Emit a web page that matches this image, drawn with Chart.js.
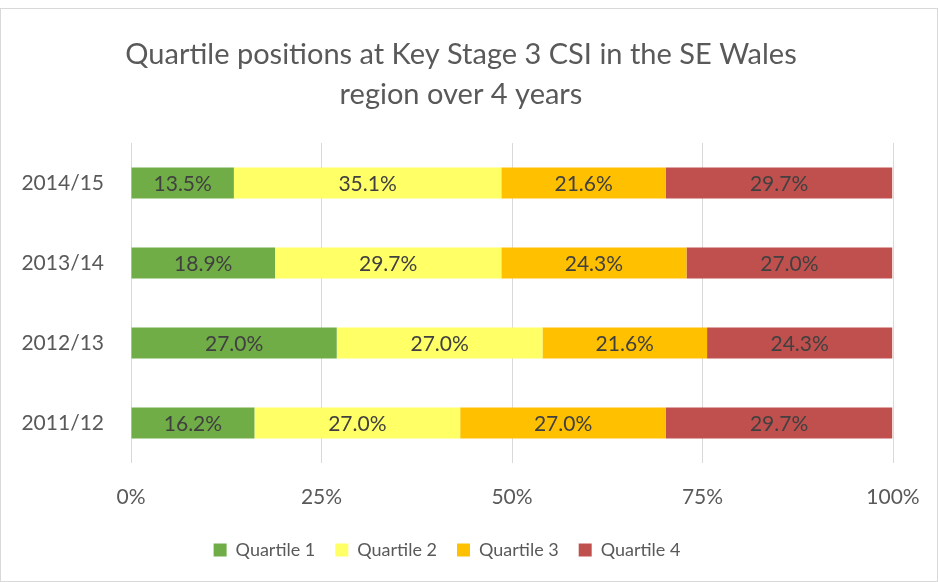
<!DOCTYPE html>
<html>
<head>
<meta charset="utf-8">
<script src="https://cdn.jsdelivr.net/npm/chart.js@4"></script>
<style>
    html, body { margin: 0; padding: 0; background: #fff; }
    #wrap { position: absolute; left: 0; top: 8px; width: 936px; height: 572px; border: 1px solid #d9d9d9; }
    canvas { display: block; }
</style>
</head>
<body>
<div id="wrap"><canvas id="chart" width="936" height="572"></canvas></div>
<script>
// Chart data
const years = ['2014/15', '2013/14', '2012/13', '2011/12'];
const quartile1 = [13.5, 18.9, 27.0, 16.2];
const quartile2 = [35.1, 29.7, 27.0, 27.0];
const quartile3 = [21.6, 24.3, 21.6, 27.0];
const quartile4 = [29.7, 27.0, 24.3, 29.7];
const seriesNames = ['Quartile 1', 'Quartile 2', 'Quartile 3', 'Quartile 4'];
const xTicks = [0, 25, 50, 75, 100];
const titleLines = ['Quartile positions at Key Stage 3 CSI in the SE Wales', 'region over 4 years'];

const colors = ['#70AD47', '#FFFF66', '#FFC000', '#C0504D'];
const fontFamily = "Lato, 'Open Sans', sans-serif";

// Title drawn by hand so it can sit a little right of the legend centre
const chartTitle = {
    id: 'chartTitle',
    afterDraw(chart) {
        const ctx = chart.ctx;
        ctx.save();
        ctx.font = '29px ' + fontFamily;
        ctx.fillStyle = '#595959';
        ctx.textAlign = 'center';
        ctx.textBaseline = 'middle';
        titleLines.forEach((line, i) => ctx.fillText(line, 460, 46 + i * 40));
        ctx.restore();
    }
};

// Draws the value in the middle of each bar segment
const barLabels = {
    id: 'barLabels',
    afterDatasetsDraw(chart) {
        const ctx = chart.ctx;
        ctx.save();
        ctx.font = '21px ' + fontFamily;
        ctx.fillStyle = '#404040';
        ctx.textAlign = 'center';
        ctx.textBaseline = 'middle';
        chart.data.datasets.forEach((ds, i) => {
            chart.getDatasetMeta(i).data.forEach((bar, j) => {
                const cx = (bar.x + bar.base) / 2;
                ctx.fillText(ds.data[j].toFixed(1) + '%', cx, bar.y + 1);
            });
        });
        ctx.restore();
    }
};

const datasets = [quartile1, quartile2, quartile3, quartile4].map((values, i) => ({
    label: seriesNames[i],
    data: values,
    backgroundColor: colors[i],
    borderWidth: 0,
    barPercentage: 0.39,
    categoryPercentage: 1.0
}));

new Chart(document.getElementById('chart').getContext('2d'), {
    type: 'bar',
    data: { labels: years, datasets: datasets },
    plugins: [barLabels, chartTitle],
    options: {
        indexAxis: 'y',
        responsive: false,
        animation: false,
        layout: { padding: { left: 0, right: 44, top: 134, bottom: 12 } },
        plugins: {
            title: { display: false },
            legend: {
                position: 'bottom',
                labels: {
                    font: { family: fontFamily, size: 18 },
                    color: '#595959',
                    boxWidth: 13,
                    boxHeight: 13,
                    padding: 20
                }
            },
            tooltip: { enabled: false }
        },
        scales: {
            x: {
                stacked: true,
                min: 0,
                max: 100,
                afterBuildTicks: axis => { axis.ticks = xTicks.map(v => ({ value: v })); },
                afterFit: axis => {
                    axis.height = 58;
                    axis.paddingLeft = 0;
                    axis.paddingRight = 0;
                },
                ticks: {
                    callback: v => v + '%',
                    font: { family: fontFamily, size: 21 },
                    color: '#595959',
                    padding: 22
                },
                grid: { color: '#d9d9d9', drawTicks: false },
                border: { display: false }
            },
            y: {
                stacked: true,
                afterFit: axis => { axis.width = 130; },
                ticks: {
                    font: { family: fontFamily, size: 21 },
                    color: '#595959',
                    padding: 19
                },
                grid: { display: false },
                border: { display: false }
            }
        }
    }
});
</script>
</body>
</html>
